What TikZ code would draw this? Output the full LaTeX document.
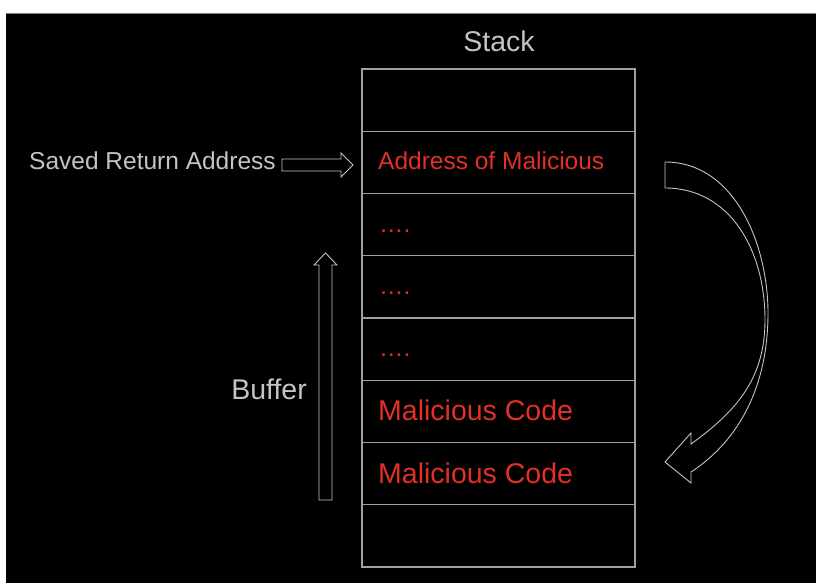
\documentclass[tikz,border=0pt]{standalone}
\usepackage{fontspec}
\setmainfont{Liberation Sans}
\usepackage{tikz}
\usetikzlibrary{positioning}

\definecolor{txtgray}{RGB}{196,196,196}
\definecolor{linegray}{RGB}{160,160,160}
\definecolor{malred}{RGB}{226,48,38}

\tikzset{
  cell/.style={draw=linegray, line width=1.2pt, minimum width=273pt, minimum height=62.25pt, inner sep=0pt, outer sep=0pt},
  graytxt/.style={text=txtgray, inner sep=0pt, font=\fontsize{24.5}{28}\selectfont},
  redtxt/.style={text=malred, inner sep=0pt, font=\fontsize{24.5}{28}\selectfont},
  bigred/.style={text=malred, inner sep=0pt, font=\fontsize{28.5}{32}\selectfont},
  blockarrow/.style={draw=txtgray, line width=0.9pt, line join=miter}
}

\begin{document}
\begin{tikzpicture}[x=1pt,y=-1pt]
                        \useasboundingbox (0,0) rectangle (816,583);
                        \fill[white] (0,0) rectangle (816,583);
                        \fill[black] (6,13) rectangle (816,583);
                        \draw[gray, line width=0.6pt] (6,13) -- (816,13);

                        % Stack cells
                        \node[cell, anchor=north west] (cell1) at (362,69) {};
                        \node[cell, below=0pt of cell1] (cell2) {};
                        \node[cell, below=0pt of cell2] (cell3) {};
                        \node[cell, below=0pt of cell3] (cell4) {};
                        \node[cell, below=0pt of cell4] (cell5) {};
                        \node[cell, below=0pt of cell5] (cell6) {};
                        \node[cell, below=0pt of cell6] (cell7) {};
                        \node[cell, below=0pt of cell7] (cell8) {};

                        % Labels
                        \node[graytxt, font=\fontsize{28.5}{32}\selectfont, anchor=base] (stack) at (499,52) {Stack};
                        \node[graytxt, anchor=base west] (saved) at (29,169.5) {Saved Return Address};
                        \node[graytxt, font=\fontsize{28.5}{32}\selectfont, anchor=base east] (buffer) at (307,399) {Buffer};
                        \node[redtxt, anchor=base west] (addr) at ([xshift=16pt,yshift=-7pt]cell2.west) {Address of Malicious};
                        \node[redtxt, anchor=base west] (dots1) at ([xshift=17pt,yshift=-7.5pt]cell3.west) {….};
                        \node[redtxt, anchor=base west] (dots2) at ([xshift=17pt,yshift=-7.5pt]cell4.west) {….};
                        \node[redtxt, anchor=base west] (dots3) at ([xshift=17pt,yshift=-7.5pt]cell5.west) {….};
                        \node[bigred, anchor=base west] (code1) at ([xshift=16pt,yshift=-9pt]cell6.west) {Malicious Code};
                        \node[bigred, anchor=base west] (code2) at ([xshift=16pt,yshift=-10pt]cell7.west) {Malicious Code};

                        % Block arrows
                        \draw[blockarrow] (282,159) -- (341,159) -- (341,153) -- (353,165) -- (341,177) -- (341,171) -- (282,171) -- cycle;
                        \draw[blockarrow] (319,500) -- (319,265) -- (314,265) -- (325.5,253) -- (337,265) -- (332,265) -- (332,500) -- cycle;
                        \draw[blockarrow] (665,162) .. controls (735,162) and (768,245) .. (768,313)
                                          .. controls (768,385) and (740,440) .. (691,472)
                                          -- (691,483) -- (665,462) -- (691,433) -- (691,444)
                                          .. controls (735,412) and (765,380) .. (765,320)
                                          .. controls (765,250) and (730,188) .. (665,188) -- cycle;
                    \end{tikzpicture}
\end{document}
